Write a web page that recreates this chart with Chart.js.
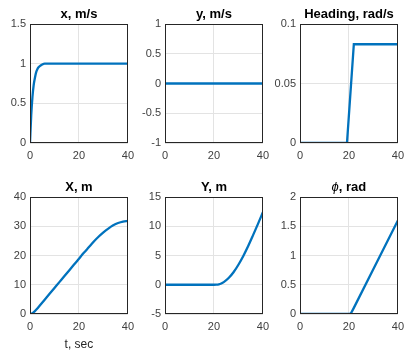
<!DOCTYPE html>
<html><head><meta charset="utf-8">
<script src="https://cdn.jsdelivr.net/npm/chart.js@4/dist/chart.umd.min.js"></script>
<style>
html,body{margin:0;padding:0;background:#fff;overflow:hidden;width:406px;height:352px;position:relative;}
canvas{position:absolute;}
</style></head><body>
<canvas id="c0"></canvas><canvas id="c1"></canvas><canvas id="c2"></canvas>
<canvas id="c3"></canvas><canvas id="c4"></canvas><canvas id="c5"></canvas>
<script>
// ---- data ----
const xTicks = [0, 20, 40];

const tVelX = [0, 0.5, 1, 1.5, 2, 2.5, 3, 3.5, 4, 5, 6, 10, 20, 30, 40];
const velX  = [0, 0.35, 0.58, 0.73, 0.82, 0.89, 0.93, 0.955, 0.97, 0.99, 1, 1, 1, 1, 1];

const tVelY = [0, 10, 20, 30, 40];
const velY  = [0, 0, 0, 0, 0];

const tHead = [0, 19.2, 22, 40];
const head  = [0, 0, 0.083, 0.083];

const tPosX = [0, 1, 2, 3, 4, 6, 8, 10, 12, 14, 16, 18, 20, 22, 24, 26, 28, 30, 32, 34, 36, 38, 40];
const posX  = [0, 0.3, 1.0, 1.9, 2.9, 4.9, 6.9, 8.9, 10.9, 12.9, 14.9, 16.9, 18.9, 20.9, 22.8, 24.7, 26.4, 27.9, 29.2, 30.3, 31.1, 31.6, 31.8];

const tPosY = [0, 10, 20, 21, 22, 23, 24, 26, 28, 30, 32, 34, 36, 38, 40];
const posY  = [0, 0, 0, 0.01, 0.07, 0.22, 0.45, 1.15, 2.14, 3.42, 4.93, 6.62, 8.48, 10.4, 12.4];

const tPhi = [0, 20, 20.5, 21, 22, 30, 40];
const phi  = [0, 0, 0.005, 0.025, 0.105, 0.77, 1.6];

const titles = ["x, m/s", "y, m/s", "Heading, rad/s", "X, m", "Y, m", "\u03D5, rad"];
const yTicks = [
  [0, 0.5, 1, 1.5],
  [-1, -0.5, 0, 0.5, 1],
  [0, 0.05, 0.1],
  [0, 10, 20, 30, 40],
  [-5, 0, 5, 10, 15],
  [0, 0.5, 1, 1.5, 2]
];
const series = [[tVelX, velX, true], [tVelY, velY, false], [tHead, head, false],
                [tPosX, posX, true], [tPosY, posY, true], [tPhi, phi, false]];

// ---- layout ----
const colLeft = [30, 165, 300];
const rowTop = [24, 197];
const rowH = [119, 117];
const canvasTop = [0, 173];
const canvasH = [170, 179];
const PLOT_W = 100, YAX_W = 30, RIGHT_PAD = 10;

const FONT = "'Liberation Sans', Arial, Helvetica, sans-serif";

const boxTitlePlugin = {
  id: 'boxTitle',
  afterDatasetsDraw(chart) {
    const a = chart.chartArea, ctx = chart.ctx;
    ctx.save();
    ctx.strokeStyle = '#262626';
    ctx.lineWidth = 1;
    ctx.strokeRect(Math.round(a.left) + 0.5, Math.round(a.top) + 0.5,
                   Math.round(a.right - a.left) - 1, Math.round(a.bottom - a.top) - 1);
    const t = chart.options.plugins.boxTitle.text;
    ctx.fillStyle = '#000';
    ctx.textBaseline = 'middle';
    const cx = (a.left + a.right) / 2, cy = a.top - 10;
    if (t.startsWith('\u03D5')) {
      const f1 = "italic 13px " + FONT, f2 = "bold 13px " + FONT;
      ctx.font = f1; const w1 = ctx.measureText('\u03D5').width;
      ctx.font = f2; const rest = t.slice(1); const w2 = ctx.measureText(rest).width;
      let x = cx - (w1 + w2) / 2;
      ctx.textAlign = 'left';
      ctx.font = f1; ctx.fillText('\u03D5', x, cy);
      ctx.font = f2; ctx.fillText(rest, x + w1, cy);
    } else {
      ctx.font = "bold 13px " + FONT;
      ctx.textAlign = 'center';
      ctx.fillText(t, cx, cy);
    }
    ctx.restore();
  }
};

for (let i = 0; i < 6; i++) {
  const r = Math.floor(i / 3), c = i % 3;
  const cv = document.getElementById('c' + i);
  const w = YAX_W + PLOT_W + RIGHT_PAD, h = canvasH[r];
  cv.width = w; cv.height = h;
  cv.style.width = w + 'px'; cv.style.height = h + 'px';
  cv.style.left = (colLeft[c] - YAX_W) + 'px';
  cv.style.top = canvasTop[r] + 'px';
  const topLocal = rowTop[r] - canvasTop[r];
  const xH = h - topLocal - rowH[r];
  const [tx, ty, smooth] = series[i];
  const yt = yTicks[i];
  const isXLabel = (i === 3);
  new Chart(cv, {
    type: 'line',
    data: { datasets: [{
      data: tx.map((t, k) => ({ x: t, y: ty[k] })),
      borderColor: '#0072BD', borderWidth: 2.3, pointRadius: 0,
      cubicInterpolationMode: smooth ? 'monotone' : 'default', tension: 0, fill: false
    }]},
    options: {
      responsive: false, animation: false, devicePixelRatio: 1,
      layout: { padding: { top: topLocal, right: RIGHT_PAD, left: 0, bottom: 0 } },
      plugins: { legend: { display: false }, tooltip: { enabled: false }, title: { display: false },
                 boxTitle: { text: titles[i] } },
      scales: {
        x: {
          type: 'linear', min: xTicks[0], max: xTicks[xTicks.length - 1],
          afterBuildTicks: s => { s.ticks = xTicks.map(v => ({ value: v })); },
          afterFit: s => { s.height = xH; },
          grid: { color: '#e3e3e3', drawTicks: false, lineWidth: 1 },
          border: { display: false },
          ticks: { padding: 6, maxRotation: 0, color: '#404040', font: { family: FONT, size: 11 },
                   callback: v => String(v) },
          title: { display: isXLabel, text: 't, sec', color: '#262626',
                   font: { family: FONT, size: 12 }, padding: { top: 2, bottom: 0 } }
        },
        y: {
          type: 'linear', min: yt[0], max: yt[yt.length - 1],
          afterBuildTicks: s => { s.ticks = yt.map(v => ({ value: v })); },
          afterFit: s => { s.width = YAX_W; },
          grid: { color: '#e3e3e3', drawTicks: false, lineWidth: 1 },
          border: { display: false },
          ticks: { padding: 4, color: '#404040', font: { family: FONT, size: 11 },
                   callback: v => String(v) }
        }
      }
    },
    plugins: [boxTitlePlugin]
  });
}
</script>
</body></html>
